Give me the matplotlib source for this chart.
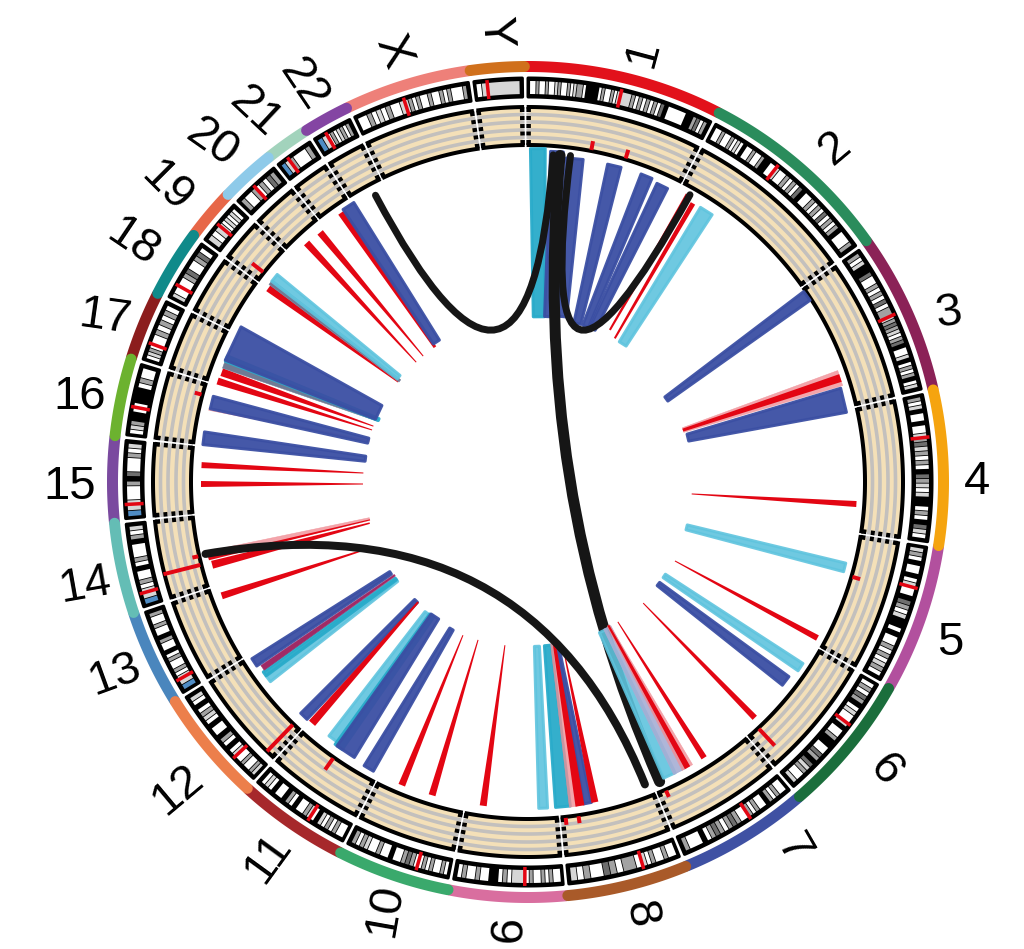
import numpy as np
import matplotlib
matplotlib.use('Agg')
import matplotlib.pyplot as plt
from matplotlib.patches import Polygon, PathPatch
from matplotlib.path import Path

plt.rcParams['font.family'] = ['Liberation Sans', 'DejaVu Sans']

# chromosome order and where each one ends, degrees clockwise from the top
CHROMS = ['1', '2', '3', '4', '5', '6', '7', '8', '9', '10', '11', '12', '13', '14',
          '15', '16', '17', '18', '19', '20', '21', '22', 'X', 'Y']
CHROM_START = -0.4
CHROM_END = [27.3, 54.6, 77.1, 98.9, 119.7, 139.3, 157.6, 174.6, 191.0, 206.9, 222.4, 238.2,
             251.6, 264.4, 276.3, 287.3, 296.9, 306.5, 313.7, 321.4, 327.7, 334.2, 351.9, 359.6]
CHROM_COLORS = ['#e2111b', '#2a8c5c', '#8b2257', '#f5a40f', '#b2509e', '#1b6e3c', '#3f51a3', '#a95a29',
                '#d96e9f', '#3aa96c', '#a6282b', '#ec7f4b', '#4a86bd', '#64bdb5', '#7a4a9f', '#6cb22f',
                '#8c1d1d', '#108a8a', '#e76748', '#8ecae9', '#a2d3bc', '#8445a3', '#ee8079', '#d0701c']
LABEL_DEG = [15.0, 42.6, 68.1, 90.0, 110.9, 128.9, 144.2, 165.5, 183.6, 198.5, 214.7, 228.7,
             245.0, 256.9, 269.4, 280.7, 291.2, 301.2, 309.2, 317.0, 323.6, 330.5, 342.5, 355.8]
LABEL_R = [444, 453, 453, 449, 452, 459, 453, 447, 451, 451, 457, 466,
           456, 455, 458, 456, 454, 462, 466, 463, 460, 456, 450, 450]
LABEL_ROT = [75, 40, 8, 0, 0, -50, -60, -80, -92, 80, 54, 40,
             20, 10, 0, 0, -8, -34, -45, -35, -43, -56, -69, -86]

# centromere as a fraction of the chromosome, cytobands either side of it
CENTROMERE = [.50, .40, .48, .29, .30, .37, .39, .33, .35, .31, .39, .27,
              .15, .16, .18, .40, .28, .23, .44, .45, .30, .32, .44, .27]
P_ARM = ['wwgwwgwwlgwwgwlggwkkkkwgwwgwl', 'wwgwwgwlwkwwgwwgkkww', 'gwlkkdwwgwgwdwgg', 'gwlkwwkwwl',
         'lgwkwwkwl', 'wgwdgkwlww', 'wwgwgkwwgwg', 'wwgwwgwl', 'wwgwgwwgw', 'wgwwgwgw',
         'wwgwgwlkw', 'lgwwgww', 'bl', 'bl', 'bl', 'wlgkkw', 'wlgw', 'lww', 'lwl', 'gwwg', 'bl', 'bl',
         'wwgwlwgwwl', 'wl']
Q_ARM = ['lllgwgwgwgwdkwwwwwkkgdwg', 'lwwgwgwdkwwgwgwdwgwgkwwwg', 'lgdglwgdkwwlkwgwgkwl',
         'gdlgwgwkdglwlkkwgwkdlw', 'wwkdgwlkkwkwwgwgwlgw', 'lkwwgkkwwdgkdlgwwl',
         'wwgdgwgdgwkwwwg', 'wggwgdwwgwl', 'lllwgwkkwwgwwgw', 'wgdgwwkwwgwwlgwg',
         'lgwwkwgkwwkwlw', 'lwkwgkwwkwlgwkwl', 'lwgwwgwkwwgkwwgwwg', 'lwgwwkwgwwwkgwl',
         'lwwwgkdwwwgwl', 'wkkkwgww', 'wwgwgwgw', 'wwgdwwgdw', 'lwlwlw', 'wgwdg', 'gwwwg', 'wgwlgwg',
         'lgwgwwgwwgwgwwwg', 'lllllll']

# red marks inside the beige track
MARK_DEG = [10.8, 16.8, 106.3, 136.9, 155.9, 171.4, 173.6, 215.2, 224.1, 255.8, 257.3, 285.0, 308.4]
MARK_TOP = [347, 347, 346, 361, 345, 345, 345, 352, 375, 376, 344, 345, 352]

# links: kind, genome position at the track and at the inner end, reach and span at both ends
LINK_KIND = list('CBBBBBLRRBPRBRLRLBRRLCPBRRRRRBLCBBRLCMBRRPRRRBPBRRGCBRGLRRRB')
LINK_OUT_DEG = [1.5, 4.8, 8.0, 15.0, 20.9, 24.1, 33.0, 28.8, 30.3, 55.9, 71.2, 71.2, 75.1, 93.5, 104.8, 118.1,
                124.0, 127.5, 136.0, 147.4, 177.5, 174.0, 172.2, 169.6, 171.0, 168.3, 188.1, 197.3, 202.9, 209.4,
                217.3, 215.9, 214.4, 224.1, 222.2, 233.2, 234.3, 235.4, 237.0, 250.0, 255.7, 257.5, 256.9, 270.0, 273.3,
                278.0, 283.2, 284.4, 288.3, 290.0, 291.3, 292.5, 295.4, 306.9, 308.0, 309.0, 317.3, 320.3, 325.3, 327.0]
LINK_IN_DEG = [3.4, 6.9, 10.6, 16.8, 19.7, 22.2, 33.8, 27.7, 30.5, 58.3, 70.7, 70.7, 73.7, 93.5, 105.4, 117.8,
               124.2, 127.7, 136.2, 147.2, 177.2, 173.3, 171.8, 170.0, 171.0, 168.2, 188.5, 198.1, 203.6, 208.1,
               218.3, 216.5, 215.4, 224.0, 223.2, 233.8, 234.5, 235.8, 237.3, 248.0, 256.2, 257.6, 257.3, 270.0, 273.8,
               278.8, 285.1, 285.1, 289.0, 290.4, 293.0, 293.2, 295.5, 307.9, 308.6, 309.4, 317.2, 320.4, 325.5, 326.9]
LINK_OUT_R = [337, 335, 330, 331, 331, 328, 327, 330, 325, 337, 329, 329, 327, 328, 328, 327,
              329, 325, 325, 325, 326, 326, 326, 326, 326, 325, 325, 326, 327, 328,
              323, 326, 326, 325, 323, 327, 327, 324, 329, 327, 327, 329, 329, 328, 328,
              330, 329, 329, 328, 327, 328, 329, 329, 326, 328, 329, 328, 327, 330, 333]
LINK_IN_R = [166, 167, 169, 166, 166, 166, 167, 174, 169, 160, 163, 163, 164, 163, 162, 165,
             162, 162, 165, 164, 161, 161, 161, 161, 161, 172, 163, 164, 165, 163,
             163, 162, 161, 161, 162, 162, 162, 162, 163, 168, 164, 163, 163, 166, 166,
             164, 165, 165, 166, 166, 164, 162, 165, 166, 165, 167, 166, 166, 166, 168]
LINK_OUT_W = [16, 14, 18, 15, 13, 13, 15, 5, 5, 12, 16, 8, 26, 6, 10, 6,
              10, 12, 6, 6, 10, 16, 8, 9, 9, 7, 7, 7, 7, 12,
              14, 10, 22, 10, 8, 8, 6, 6, 10, 7, 8, 8, 3.5, 6, 6,
              14, 3, 14, 7, 8, 7, 7, 38, 7, 6, 10, 7, 7, 7, 14]
LINK_IN_W = [12, 10, 14, 8, 7, 7, 9, 2, 2, 6, 5, 3, 8, 1, 6, 1,
             5, 5, 1, 1, 6, 8, 3, 3, 3, 1, 1, 1, 1, 5,
             6, 6, 10, 5, 2, 3, 3, 2, 4, 1, 1.5, 3, 1, 1, 1,
             6, 1, 6, 1, 1, 3, 3, 16, 1, 3, 5, 1, 1, 3, 8]

# these few sit on top of the black chord running down to chromosome 8
OVER_KIND = list('LVPR')
OVER_OUT_DEG = [154.3, 152.3, 150.8, 150.8]
OVER_IN_DEG = [153.4, 151.4, 150.7, 150.7]
OVER_OUT_R = [325, 325, 325, 325]
OVER_IN_R = [163, 163, 162, 162]
OVER_OUT_W = [14, 14, 12, 6]
OVER_IN_W = [8, 8, 3, 2]

# black translocation chords
CHORD_A_DEG = [332.0, 7.2, 5.4, 257.8]
CHORD_A_R = [327, 331, 330, 331]
CHORD_B_DEG = [4.2, 29.1, 156.3, 158.9]
CHORD_B_R = [330, 331, 325, 322]
CHORD_PULL_DEG = [0, 0, 0, 180]
CHORD_PULL_R = [0, 0, 0, 14]
CHORD_W = [7, 7, 11, 8]

BAND_COLORS = {'w': '#ffffff', 'l': '#d6d6d6', 'g': '#a2a2a2', 'd': '#6e6e6e', 'b': '#4f8cc4'}
LINK_STYLE = {'R': ('#e30613', 1.0, 0.0), 'B': ('#3b4fa3', 0.95, 3.0), 'L': ('#5fc4de', 0.9, 3.0),
              'C': ('#29abca', 0.95, 3.0), 'P': ('#f08f96', 0.8, 0.5), 'V': ('#a7aed4', 0.9, 1.0),
              'M': ('#a02a66', 1.0, 0.5), 'G': ('#707a94', 1.0, 0.5)}
RED = '#e30613'
BEIGE = '#f4e0b8'
TRACK_GREY = '#c3c0bd'
LINK_SHIFT = np.array([1.0, -2.0])
PX = 0.72  # points per pixel at dpi 100


def polar(deg, r):
    t = np.radians(deg)
    return np.array([r * np.sin(t), r * np.cos(t)]).T


def arc(a, b, r):
    return polar(np.linspace(a, b, max(int(abs(b - a) * 4), 2)), r)


def sector(a, b, r0, r1):
    return np.vstack([arc(a, b, r1), arc(b, a, r0)])


def draw_link(ax, kind, out_deg, in_deg, out_r, in_r, out_w, in_w, z):
    color, alpha, edge = LINK_STYLE[kind]
    p0 = polar(out_deg, out_r) + LINK_SHIFT
    p1 = polar(in_deg, in_r) + LINK_SHIFT
    d = (p1 - p0) / np.linalg.norm(p1 - p0)
    n = np.array([-d[1], d[0]])
    # the round edge adds to the width, take part of it off again
    w0, w1 = max(out_w - edge * 0.4, 0.3), max(in_w - edge * 0.3, 0.3)
    p0 = p0 + d * edge / 2
    p1 = p1 - d * edge / 2
    pts = [p0 + n * w0 / 2, p1 + n * w1 / 2, p1 - n * w1 / 2, p0 - n * w0 / 2]
    ax.add_patch(Polygon(pts, closed=True, facecolor=color, edgecolor=color if edge else 'none',
                         linewidth=edge * PX, alpha=alpha, joinstyle='round', zorder=z))


def draw_bands(ax, arm, s, e):
    # runs of one code make one band
    step = (e - s) / len(arm)
    j = 0
    while j < len(arm):
        k = j
        while k + 1 < len(arm) and arm[k + 1] == arm[j]:
            k += 1
        if arm[j] != 'k':
            ax.add_patch(Polygon(sector(s + j * step, s + (k + 1) * step - 0.12, 388, 401), closed=True,
                                 facecolor=BAND_COLORS[arm[j]], edgecolor='none', zorder=3))
        j = k + 1


fig = plt.figure(figsize=(10.24, 9.49), dpi=100)
ax = fig.add_axes([0, 0, 1, 1])
ax.set_xlim(-528, 496)
ax.set_ylim(-467, 482)
ax.axis('off')

starts = [CHROM_START] + CHROM_END[:-1]
for i, name in enumerate(CHROMS):
    a, b = starts[i], CHROM_END[i]

    # outer coloured band
    xy = arc(a + 0.1, b - 0.1, 415.5)
    ax.plot(xy[:, 0], xy[:, 1], color=CHROM_COLORS[i], lw=11 * PX, solid_capstyle='round', zorder=2 + (i % 2))

    # ideogram
    ia, ib = a + 0.4, b - 0.4
    ax.add_patch(Polygon(sector(ia, ib, 385, 404), closed=True, facecolor='black', edgecolor='black',
                         linewidth=3 * PX, joinstyle='round', zorder=2))
    cen = ia + (ib - ia) * CENTROMERE[i]
    draw_bands(ax, P_ARM[i], ia + 0.3, cen)
    draw_bands(ax, Q_ARM[i], cen, ib - 0.3)
    xy = polar(np.array([cen, cen]), np.array([385, 404]))
    ax.plot(xy[:, 0], xy[:, 1], color=RED, lw=3.5 * PX, solid_capstyle='butt', zorder=4)

    # beige track with its grey lines
    ta, tb = a + 0.5, b - 0.5
    ax.add_patch(Polygon(sector(ta, tb, 337, 375), closed=True, facecolor=BEIGE, edgecolor='none', zorder=2))
    for r in (344.5, 352, 360, 367.5):
        xy = arc(a + 0.15, b - 0.15, r)
        ax.plot(xy[:, 0], xy[:, 1], color=TRACK_GREY, lw=3.6 * PX, solid_capstyle='butt', zorder=3)
    for r in (337, 375):
        xy = arc(ta, tb, r)
        ax.plot(xy[:, 0], xy[:, 1], color='black', lw=4 * PX, solid_capstyle='projecting', zorder=4)
    for end in (ta, tb):
        for r0, r1 in ((337, 342), (346.5, 350.5), (354, 358), (362, 366), (370, 375)):
            xy = polar(np.array([end, end]), np.array([r0, r1]))
            ax.plot(xy[:, 0], xy[:, 1], color='black', lw=4.5 * PX, solid_capstyle='butt', zorder=4)

    # chromosome name
    x, y = polar(LABEL_DEG[i], LABEL_R[i])
    ax.text(x, y, name, fontsize=34, color='black', rotation=LABEL_ROT[i], rotation_mode='anchor',
            ha='center', va='center', zorder=6)

for deg, top in zip(MARK_DEG, MARK_TOP):
    xy = polar(np.array([deg, deg]), np.array([338, top]))
    ax.plot(xy[:, 0], xy[:, 1], color=RED, lw=4 * PX, solid_capstyle='butt', zorder=5)

for i, kind in enumerate(LINK_KIND):
    draw_link(ax, kind, LINK_OUT_DEG[i], LINK_IN_DEG[i], LINK_OUT_R[i], LINK_IN_R[i],
              LINK_OUT_W[i], LINK_IN_W[i], 6)

for i in range(len(CHORD_W)):
    p0 = polar(CHORD_A_DEG[i], CHORD_A_R[i]) + LINK_SHIFT
    p2 = polar(CHORD_B_DEG[i], CHORD_B_R[i]) + LINK_SHIFT
    pc = polar(CHORD_PULL_DEG[i], CHORD_PULL_R[i]) + LINK_SHIFT
    path = Path([p0, pc, p2], [Path.MOVETO, Path.CURVE3, Path.CURVE3])
    ax.add_patch(PathPatch(path, facecolor='none', edgecolor='#161616', linewidth=CHORD_W[i] * PX,
                           capstyle='round', zorder=7))

for i, kind in enumerate(OVER_KIND):
    draw_link(ax, kind, OVER_OUT_DEG[i], OVER_IN_DEG[i], OVER_OUT_R[i], OVER_IN_R[i],
              OVER_OUT_W[i], OVER_IN_W[i], 8)

fig.savefig('out.png', dpi=100)
